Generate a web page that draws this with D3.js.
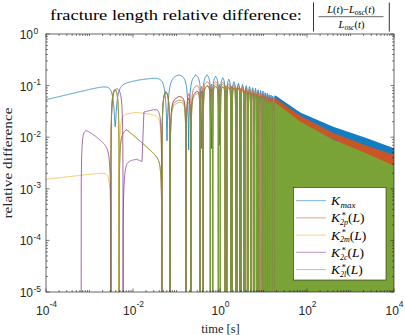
<!DOCTYPE html>
<html>
<head>
<meta charset="utf-8">
<script src="https://cdn.jsdelivr.net/npm/d3@7/dist/d3.min.js"></script>
<style>
  body { margin: 0; background: #fff; }
  svg { display: block; }
</style>
</head>
<body>
<svg id="chart" width="405" height="335"></svg>
<script>

// ---------------- data ----------------

const x_ticks = [1e-4, 1e-2, 1e0, 1e2, 1e4]
const y_ticks = [1e-5, 1e-4, 1e-3, 1e-2, 1e-1, 1e0]

const series_names = ['Kmax', 'K2p', 'K2m', 'K2c', 'K2l']
const series_colors = ['#0072BD', '#D95319', '#EDB120', '#7E2F8E', '#77AC30']

// times [s] of the sharp dips of K_max
const dip_times = [0.0039, 0.0605, 0.19, 0.38, 0.64, 0.97, 1.37, 1.84, 2.37, 2.97, 3.64, 4.38,
    5.19, 6.07, 7.02, 8.03, 9.11, 10.3, 11.5, 12.8, 14.1, 15.6, 17.1, 18.7, 20.3]
// how low K_max goes in each dip
const kmax_dip_depth = [0.016, 0.0085, 0.0057, 0.006, 0.006, 0.007, 0.007, 0.008, 0.008, 0.009,
    0.009, 0.01, 0.01, 0.011, 0.011, 0.012, 0.012, 0.013, 0.013, 0.014, 0.014, 0.015, 0.015, 0.016, 0.016]
// upper envelope of K_max  [t, value]
const kmax_top = [[1e-4, 0.051], [0.003, 0.106], [0.005, 0.112], [0.038, 0.149], [0.1, 0.168],
    [0.5, 0.175], [1.0, 0.16], [1.7, 0.142], [2.4, 0.125], [3.4, 0.114], [4.7, 0.107], [6.4, 0.098],
    [10, 0.085], [20, 0.062], [70, 0.03], [400, 0.016], [2400, 0.0095], [1e4, 0.0061]]

// zero crossings shared by the K2p, K2m, K2l curves
const osc_zeros = [0.0031, 0.0048, 0.046, 0.071, 0.165, 0.215, 0.35, 0.41, 0.60, 0.68, 0.92, 1.02,
    1.31, 1.43, 1.77, 1.91, 2.29, 2.45, 2.88, 3.06, 3.54, 3.74, 4.27, 4.49, 5.07, 5.31, 5.94, 6.2,
    6.88, 7.16, 7.88, 8.18, 8.95, 9.27, 10.1, 10.5, 11.3, 11.7, 12.6, 13.0, 13.9, 14.3, 15.4, 15.8,
    16.9, 17.3, 18.5, 18.9, 20.1, 20.5]
// zero crossings of K2c (differs only at the start)
const k2c_zeros = [6.4e-4, 0.0031, 0.0059].concat(osc_zeros.slice(2))

const k2p_top = [[1e-4, 1e-7], [0.0031, 1e-7], [0.0031, 0.095], [0.0048, 0.095], [0.0048, 0.012],
    [0.007, 0.0145], [0.0375, 0.0042], [0.046, 0.0038], [0.046, 0.085], [0.071, 0.085], [0.071, 0.05],
    [0.165, 0.055], [0.2, 0.09], [0.5, 0.12], [1, 0.12], [3, 0.1], [10, 0.07], [20, 0.055], [70, 0.026],
    [400, 0.012], [2400, 0.0068], [1e4, 0.0045]]
const k2m_top = [[1e-4, 0.00153], [0.0031, 0.00214], [0.0031, 0.095], [0.0048, 0.095], [0.0048, 0.028],
    [0.012, 0.0304], [0.0375, 0.027], [0.046, 0.026], [0.046, 0.085], [0.071, 0.085], [0.071, 0.055],
    [0.108, 0.063], [0.165, 0.06], [0.5, 0.1], [3, 0.09], [10, 0.06], [20, 0.045], [70, 0.019], [1e4, 0.0025]]
const k2c_top = [[1e-4, 1e-7], [6.4e-4, 1e-7], [6.4e-4, 0.018], [9.7e-4, 0.0133], [0.0031, 0.0062],
    [0.0031, 0.095], [0.0059, 0.095], [0.0059, 0.0031], [0.0073, 0.0036], [0.0122, 0.0038], [0.0161, 0.0034],
    [0.0178, 0.031], [0.0376, 0.037], [0.046, 0.037], [0.046, 0.085], [0.071, 0.085], [0.071, 0.055],
    [0.12, 0.063], [0.165, 0.06], [0.5, 0.1], [3, 0.09], [10, 0.06], [20, 0.045], [70, 0.019], [1e4, 0.0025]]
const k2l_top = [[1e-4, 1e-7], [0.0031, 1e-7], [0.0031, 0.095], [0.0048, 0.095], [0.0048, 0.012],
    [0.007, 0.0145], [0.0375, 0.0042], [0.046, 0.0038], [0.046, 0.085], [0.071, 0.085], [0.071, 0.045],
    [0.165, 0.05], [0.5, 0.1], [1, 0.11], [3, 0.09], [10, 0.06], [20, 0.045], [70, 0.02], [400, 0.009],
    [2400, 0.0048], [1e4, 0.0028]]

// after this time the oscillations are too fast to resolve: drawn as a filled band
const band_start = 18

// ---------------- chart ----------------

const serif = '"Liberation Serif", "DejaVu Serif", serif'
const sans = '"Liberation Sans", Arial, sans-serif'
const axis_color = '#262626'

const plot = {left: 46, right: 394, top: 34, bottom: 292}

const x = d3.scaleLog().domain([1e-4, 1e4]).range([plot.left, plot.right])
const y = d3.scaleLog().domain([1e-5, 1]).range([plot.bottom, plot.top])

const svg = d3.select('#chart')

svg.append('defs').append('clipPath').attr('id', 'plot_clip')
    .append('rect')
    .attr('x', plot.left).attr('y', plot.top)
    .attr('width', plot.right - plot.left).attr('height', plot.bottom - plot.top)

// envelope is piecewise linear in log-log
function envelope(knots, t) {
    const lt = Math.log10(t)
    if (t <= knots[0][0]) return knots[0][1]
    for (let i = 0; i < knots.length - 1; i++) {
        const [t0, v0] = knots[i], [t1, v1] = knots[i + 1]
        if (t >= t0 && t < t1) {
            const f = (lt - Math.log10(t0)) / (Math.log10(t1) - Math.log10(t0))
            return Math.pow(10, Math.log10(v0) + f * (Math.log10(v1) - Math.log10(v0)))
        }
    }
    return knots[knots.length - 1][1]
}

// screen points of a curve: envelope pulled down to its zeros (or dips)
function curve_points(knots, zeros, depths, soft, t_end) {
    const zx = zeros.map(z => x(z))
    const x_end = x(t_end)
    const xs = d3.range(plot.left, x_end, 0.25)
        .concat(zx.filter(v => v > plot.left && v < x_end))
        .sort(d3.ascending)

    return xs.map(X => {
        const t = x.invert(X)
        let v = envelope(knots, t)
        const k = d3.bisectLeft(zx, X)
        let best = -1, d = Infinity
        for (const j of [k - 1, k]) {
            if (j >= 0 && j < zx.length && Math.abs(zx[j] - X) < d) { d = Math.abs(zx[j] - X); best = j }
        }
        if (best >= 0) {
            const gap = Math.min(best > 0 ? zx[best] - zx[best - 1] : Infinity,
                best < zx.length - 1 ? zx[best + 1] - zx[best] : Infinity)
            const s = Math.min(soft, gap / 4)
            v = v * d / Math.sqrt(d * d + s * s)
            if (depths) v = Math.sqrt(v * v + depths[best] * depths[best])
        }
        return [X, y(Math.max(v, 1e-9))]
    })
}

function band_points(knots, t_start) {
    const pts = [[t_start, envelope(knots, t_start)]]
    knots.forEach(k => { if (k[0] > t_start) pts.push(k) })
    return pts
}

const series = [
    {top: kmax_top, zeros: dip_times, depths: kmax_dip_depth, soft: 4},
    {top: k2p_top, zeros: osc_zeros, depths: null, soft: 2.5},
    {top: k2m_top, zeros: osc_zeros, depths: null, soft: 2.5},
    {top: k2c_top, zeros: k2c_zeros, depths: null, soft: 2.5},
    {top: k2l_top, zeros: osc_zeros, depths: null, soft: 2.5},
]

const plot_g = svg.append('g').attr('clip-path', 'url(#plot_clip)')

const line = d3.line()
const band_area = d3.area()
    .x(d => x(d[0]))
    .y0(plot.bottom)
    .y1(d => y(d[1]))

series.forEach((s, i) => {
    plot_g.append('path')
        .attr('d', band_area(band_points(s.top, band_start)))
        .attr('fill', series_colors[i])
        .attr('opacity', 0.92)

    plot_g.append('path')
        .attr('d', line(curve_points(s.top, s.zeros, s.depths, s.soft, band_start)))
        .attr('fill', 'none')
        .attr('stroke', series_colors[i])
        .attr('stroke-width', 0.9)
        .attr('stroke-opacity', 0.8)
})

// ---------------- axes (box, inward ticks) ----------------

const axes_g = svg.append('g')

axes_g.append('rect')
    .attr('x', plot.left).attr('y', plot.top)
    .attr('width', plot.right - plot.left).attr('height', plot.bottom - plot.top)
    .attr('fill', 'none').attr('stroke', axis_color).attr('stroke-width', 0.7)

const minor_x = []
for (let e = -4; e < 4; e++) for (let m = 1; m < 10; m++) minor_x.push(m * Math.pow(10, e))
const minor_y = []
for (let e = -5; e < 0; e++) for (let m = 2; m < 10; m++) minor_y.push(m * Math.pow(10, e))

function tick_lines(values, len, horizontal) {
    values.forEach(v => {
        if (horizontal) {
            const X = x(v)
            axes_g.append('line').attr('x1', X).attr('x2', X).attr('y1', plot.bottom).attr('y2', plot.bottom - len)
            axes_g.append('line').attr('x1', X).attr('x2', X).attr('y1', plot.top).attr('y2', plot.top + len)
        } else {
            const Y = y(v)
            axes_g.append('line').attr('y1', Y).attr('y2', Y).attr('x1', plot.left).attr('x2', plot.left + len)
            axes_g.append('line').attr('y1', Y).attr('y2', Y).attr('x1', plot.right).attr('x2', plot.right - len)
        }
    })
}
tick_lines(minor_x.filter(v => !x_ticks.includes(v)), 2, true)
tick_lines(x_ticks, 3.5, true)
tick_lines(minor_y, 2, false)
tick_lines(y_ticks, 3.5, false)
axes_g.selectAll('line').attr('stroke', axis_color).attr('stroke-width', 0.6)

// tick labels 10^k
x_ticks.forEach(v => {
    const e = Math.round(Math.log10(v))
    const t = axes_g.append('text')
        .attr('y', 315)
        .attr('font-family', sans).attr('font-size', 12).attr('fill', axis_color)
    t.append('tspan').text('10')
    t.append('tspan').attr('font-size', 8.5).attr('dy', -8).text(String(e))
    const w = t.node().getComputedTextLength()
    t.attr('x', x(v) - w / 2 + 0.5)
})

y_ticks.forEach(v => {
    const e = Math.round(Math.log10(v))
    const Y = y(v)
    const t = axes_g.append('text')
        .attr('font-family', sans).attr('font-size', 12).attr('fill', axis_color)
    t.append('tspan').attr('x', 33).attr('y', Y + 5).attr('text-anchor', 'end').text('10')
    t.append('tspan').attr('x', 33.5).attr('y', Y - 0.5).attr('font-size', 8.5).text(String(e))
})

// axis labels
svg.append('text')
    .attr('x', 220.5).attr('y', 333)
    .attr('text-anchor', 'middle')
    .attr('font-family', serif).attr('font-size', 12.5).attr('fill', axis_color)
    .text('time [s]')

svg.append('text')
    .attr('transform', 'translate(12,163) rotate(-90)')
    .attr('text-anchor', 'middle')
    .attr('font-family', serif).attr('font-size', 12.5).attr('fill', axis_color)
    .attr('textLength', 111).attr('lengthAdjust', 'spacingAndGlyphs')
    .text('relative difference')

// ---------------- math text helper ----------------

// parts: {s, size, it, dy, dx, stack}; stack = do not advance (superscript over subscript)
function piece_widths(g, parts) {
    return parts.map(p => {
        const t = g.append('text')
            .attr('font-family', serif).attr('font-size', p.size || 14)
            .attr('font-style', p.it ? 'italic' : 'normal')
            .text(p.s)
        const w = t.node().getComputedTextLength()
        t.remove()
        return w
    })
}

function math_width(g, parts) {
    const widths = piece_widths(g, parts)
    return d3.sum(parts, (p, i) => p.stack ? 0 : widths[i] + (p.dx || 0))
}

// one <text> with a tspan per piece
function math_text(g, x0, y0, parts) {
    const widths = piece_widths(g, parts)
    const text = g.append('text').attr('font-family', serif).attr('fill', '#000')
    let cx = x0
    parts.forEach((p, i) => {
        text.append('tspan')
            .attr('x', cx + (p.dx || 0)).attr('y', y0 + (p.dy || 0))
            .attr('font-size', p.size || 14)
            .attr('font-style', p.it ? 'italic' : 'normal')
            .text(p.s)
        if (!p.stack) cx += widths[i] + (p.dx || 0)
    })
    return cx - x0
}

// ---------------- title ----------------

svg.append('text')
    .attr('x', 50).attr('y', 20)
    .attr('font-family', serif).attr('font-size', 15).attr('fill', '#000')
    .attr('textLength', 252).attr('lengthAdjust', 'spacingAndGlyphs')
    .text('fracture length relative difference:')

const frac = svg.append('g')
const fs = 10.5
const num_parts = [
    {s: 'L', it: true, size: fs}, {s: '(', size: fs}, {s: 't', it: true, size: fs}, {s: ')', size: fs},
    {s: '\u2212', size: fs}, {s: 'L', it: true, size: fs}, {s: 'osc', it: true, size: 7.5, dy: 2},
    {s: '(', size: fs}, {s: 't', it: true, size: fs}, {s: ')', size: fs}]
const den_parts = [
    {s: 'L', it: true, size: fs}, {s: 'osc', it: true, size: 7.5, dy: 2},
    {s: '(', size: fs}, {s: 't', it: true, size: fs}, {s: ')', size: fs}]
math_text(frac, 351 - math_width(frac, num_parts) / 2, 13, num_parts)
math_text(frac, 351.5 - math_width(frac, den_parts) / 2, 28, den_parts)
frac.append('line').attr('x1', 318.5).attr('x2', 383.5).attr('y1', 16.7).attr('y2', 16.7)
    .attr('stroke', '#000').attr('stroke-width', 0.6)
;[313.5, 389.3].forEach(bx => {
    frac.append('line').attr('x1', bx).attr('x2', bx).attr('y1', 2.5).attr('y2', 31.5)
        .attr('stroke', '#000').attr('stroke-width', 0.8)
})

// ---------------- legend ----------------

const legend = svg.append('g')
legend.append('rect')
    .attr('x', 293.5).attr('y', 187.5).attr('width', 92.5).attr('height', 92.5)
    .attr('fill', '#fff').attr('stroke', axis_color).attr('stroke-width', 0.6)

const legend_rows = [200.7, 217.9, 235.1, 252.3, 269.5]
const star_label = sub => [{s: 'K', it: true, size: 13.5},
    {s: '\u2217', size: 7.5, dy: -6.2, dx: 1.2, stack: true}, {s: sub, it: true, size: 8, dy: 2.7},
    {s: '(', size: 13.5}, {s: 'L', it: true, size: 13.5}, {s: ')', size: 13.5}]
const legend_labels = [
    [{s: 'K', it: true, size: 13.5}, {s: 'max', it: true, size: 9, dy: 2.6, dx: 0.5}],
    star_label('2p'), star_label('2m'), star_label('2c'), star_label('2l'),
]

series_names.forEach((name, i) => {
    const ry = legend_rows[i]
    legend.append('line')
        .attr('x1', 296).attr('x2', 326).attr('y1', ry).attr('y2', ry)
        .attr('stroke', series_colors[i]).attr('stroke-width', 0.9).attr('stroke-opacity', 0.6)
    math_text(legend, 331, ry + 4.5, legend_labels[i])
})

</script>
</body>
</html>
